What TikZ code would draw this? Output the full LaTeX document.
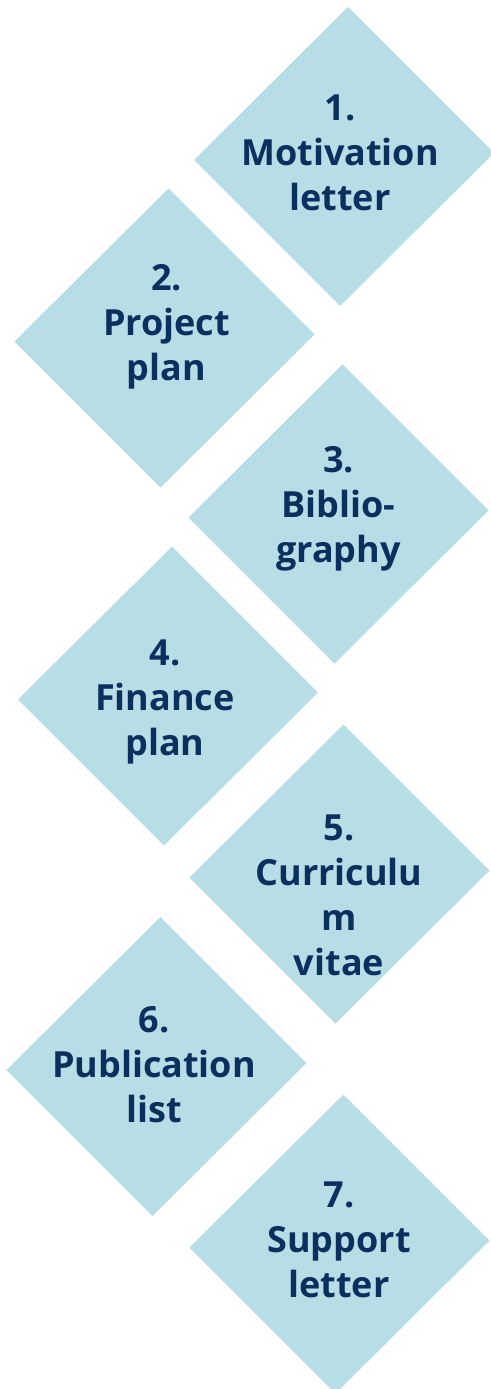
\documentclass[tikz,border=0pt]{standalone}
\usepackage{fontspec}
\setmainfont{Open Sans}
\usetikzlibrary{calc}
\definecolor{diafill}{RGB}{183,221,231}
\definecolor{txtcol}{RGB}{12,48,94}
\tikzset{
  dia/.style={fill=diafill},
  lbl/.style={text=txtcol, font=\fontsize{36}{45}\selectfont\bfseries, anchor=base, inner sep=0pt}
}
\newcommand\mydiam[1]{\fill[dia] ($(#1)+(4,-149.5)$) -- ($(#1)+(150,-3.5)$) -- ($(#1)+(-4,149.5)$) -- ($(#1)+(-150,3.5)$) -- cycle;}
\newcommand\mylines[1]{\begin{tabular}[t]{@{}c@{}}#1\end{tabular}}
\begin{document}
\begin{tikzpicture}[x=1pt,y=-1pt]
\useasboundingbox (0,0) rectangle (490,1389);
\coordinate (c1) at (344,156.5);
\coordinate (c2) at (164.5,338);
\coordinate (c3) at (338.5,514);
\coordinate (c4) at (168,696);
\coordinate (c5) at (339.5,874);
\coordinate (c6) at (156.5,1066.5);
\coordinate (c7) at (339.5,1244);
\mydiam{c1}
\mydiam{c2}
\mydiam{c3}
\mydiam{c4}
\mydiam{c5}
\mydiam{c6}
\mydiam{c7}
\node[lbl] (t1) at (340,120.7) {\mylines{1.\\Motivation\\letter}};
\node[lbl] (t2) at (166.5,290) {\mylines{2.\\Project\\plan}};
\node[lbl] (t3) at (338.5,472) {\mylines{3.\\Biblio-\\graphy}};
\node[lbl] (t4) at (165,665) {\mylines{4.\\Finance\\plan}};
\node[lbl] (t5) at (339,840.7) {\mylines{5.\\Curriculu\\m\\vitae}};
\node[lbl] (t6) at (154,1032) {\mylines{6.\\Publication\\list}};
\node[lbl] (t7) at (339,1207) {\mylines{7.\\Support\\letter}};
\end{tikzpicture}
\end{document}
